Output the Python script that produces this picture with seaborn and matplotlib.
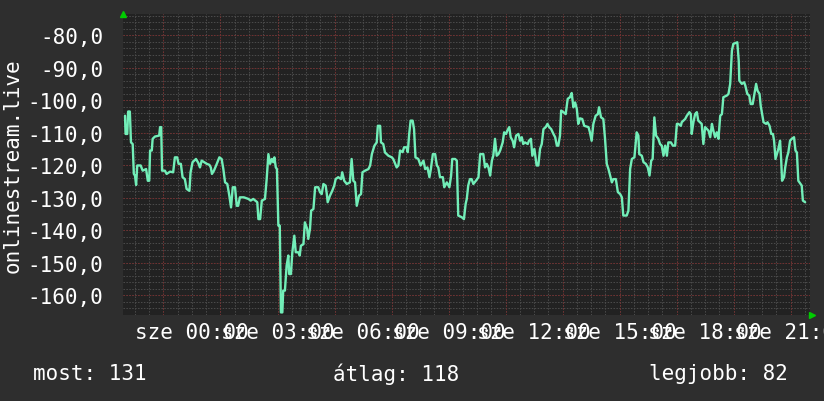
import numpy as np
import pandas as pd
import seaborn as sns
import matplotlib
matplotlib.use("Agg")
import matplotlib.pyplot as plt
from matplotlib.ticker import FuncFormatter

# adatok (órák 00:00-tól, jelszint)
hours = [
    -2.35, -2.33, -2.27, -2.24, -2.18, -2.14, -2.08, -2.04, -2.00, -1.96,
    -1.92, -1.80, -1.73, -1.61, -1.55, -1.50, -1.47, -1.41, -1.38, -1.30,
    -1.15, -1.12, -1.08, -1.05, -0.95, -0.89, -0.77, -0.66, -0.60, -0.52,
    -0.47, -0.39, -0.33, -0.25, -0.19, -0.09, -0.05, 0.02, 0.14, 0.22,
    0.28, 0.34, 0.52, 0.61, 0.66, 0.70, 0.77, 0.87, 0.96, 1.04,
    1.10, 1.16, 1.24, 1.31, 1.37, 1.43, 1.51, 1.57, 1.62, 1.68,
    1.82, 1.98, 2.06, 2.15, 2.29, 2.33, 2.39, 2.45, 2.56, 2.62,
    2.68, 2.74, 2.80, 2.85, 2.89, 2.94, 2.98, 3.03, 3.08, 3.12,
    3.17, 3.20, 3.26, 3.32, 3.38, 3.41, 3.47, 3.52, 3.59, 3.64,
    3.73, 3.78, 3.82, 3.91, 3.96, 4.04, 4.08, 4.14, 4.18, 4.26,
    4.32, 4.43, 4.49, 4.55, 4.61, 4.69, 4.73, 4.76, 4.84, 4.92,
    4.99, 5.04, 5.13, 5.23, 5.27, 5.34, 5.43, 5.54, 5.60, 5.66,
    5.72, 5.78, 5.86, 5.93, 5.98, 6.07, 6.19, 6.25, 6.31, 6.40,
    6.48, 6.52, 6.60, 6.63, 6.71, 6.77, 6.89, 7.01, 7.06, 7.18,
    7.24, 7.30, 7.39, 7.44, 7.53, 7.57, 7.62, 7.67, 7.74, 7.79,
    7.84, 7.94, 8.02, 8.12, 8.18, 8.26, 8.33, 8.38, 8.45, 8.53,
    8.59, 8.64, 8.70, 8.80, 8.85, 8.94, 9.03, 9.09, 9.13, 9.23,
    9.29, 9.34, 9.46, 9.54, 9.60, 9.64, 9.69, 9.75, 9.81, 9.87,
    9.96, 10.05, 10.11, 10.22, 10.28, 10.34, 10.40, 10.46, 10.52, 10.57,
    10.63, 10.69, 10.75, 10.81, 10.90, 10.95, 11.02, 11.06, 11.13, 11.18,
    11.25, 11.30, 11.37, 11.45, 11.51, 11.57, 11.62, 11.68, 11.78, 11.82,
    11.89, 11.94, 12.01, 12.09, 12.15, 12.21, 12.27, 12.33, 12.41, 12.47,
    12.53, 12.60, 12.68, 12.74, 12.80, 12.85, 12.91, 12.95, 13.03, 13.11,
    13.18, 13.26, 13.32, 13.38, 13.44, 13.50, 13.55, 13.61, 13.69, 13.76,
    13.91, 13.96, 14.02, 14.08, 14.16, 14.24, 14.28, 14.35, 14.43, 14.49,
    14.55, 14.61, 14.67, 14.73, 14.78, 14.87, 14.94, 15.02, 15.08, 15.13,
    15.25, 15.31, 15.37, 15.43, 15.52, 15.60, 15.66, 15.69, 15.78, 15.84,
    15.92, 15.99, 16.05, 16.11, 16.16, 16.22, 16.28, 16.36, 16.42, 16.48,
    16.54, 16.60, 16.66, 16.71, 16.80, 16.87, 16.95, 17.01, 17.06, 17.15,
    17.18, 17.30, 17.36, 17.45, 17.50, 17.53, 17.59, 17.65, 17.71, 17.76,
    17.88, 17.94, 18.00, 18.12, 18.18, 18.24, 18.29, 18.35, 18.41, 18.47,
    18.53, 18.59, 18.64, 18.76, 18.82, 18.88, 18.94, 18.99, 19.13, 19.18,
    19.20, 19.29, 19.37, 19.41, 19.48, 19.55, 19.60, 19.67, 19.72, 19.79,
    19.84, 19.91, 19.95, 20.00, 20.05, 20.14, 20.19, 20.26, 20.32, 20.38,
    20.42, 20.47, 20.52, 20.57, 20.63, 20.67, 20.70, 20.77, 20.81, 20.87,
    20.92, 20.98, 21.04, 21.12, 21.17, 21.22, 21.27, 21.39, 21.43, 21.51,
]
signal = [
    -104.7, -110.3, -110.3, -103.4, -103.4, -112.9, -113.4, -122.6, -123.1, -126.0,
    -120.0, -120.0, -121.6, -121.1, -124.7, -124.7, -115.4, -115.4, -111.8, -111.1,
    -110.8, -108.2, -108.2, -121.6, -121.6, -122.6, -121.9, -122.1, -117.5, -117.5,
    -119.5, -119.5, -123.6, -124.2, -127.2, -127.8, -122.1, -119.0, -118.0, -119.2,
    -120.6, -118.5, -119.5, -119.8, -120.6, -122.6, -121.6, -119.5, -117.5, -118.0,
    -121.1, -125.2, -125.7, -129.3, -132.9, -126.7, -126.7, -132.4, -132.4, -129.8,
    -129.8, -130.3, -130.8, -130.3, -131.3, -136.5, -136.5, -130.8, -130.3, -124.2,
    -116.5, -119.5, -118.0, -119.0, -117.5, -120.6, -121.1, -138.5, -138.5, -165.2,
    -165.2, -158.5, -158.5, -150.8, -147.7, -153.4, -153.4, -146.7, -141.6, -146.7,
    -146.7, -147.7, -144.7, -144.2, -137.5, -139.5, -142.6, -139.5, -133.9, -133.4,
    -126.7, -126.7, -128.2, -128.8, -125.7, -126.2, -128.8, -131.3, -129.3, -127.8,
    -126.2, -124.2, -123.6, -124.2, -122.1, -124.7, -125.7, -125.2, -118.0, -124.7,
    -125.2, -132.4, -129.3, -128.8, -122.1, -121.6, -121.1, -120.0, -116.5, -113.9,
    -112.9, -107.8, -107.8, -112.9, -113.4, -116.0, -117.0, -117.5, -118.0, -120.6,
    -120.0, -115.4, -115.9, -114.4, -114.4, -115.9, -110.3, -106.2, -106.2, -108.8,
    -117.5, -118.0, -120.0, -118.5, -121.1, -120.6, -123.6, -121.1, -116.5, -116.5,
    -120.0, -120.6, -123.6, -123.6, -126.7, -125.2, -126.7, -123.1, -118.0, -118.0,
    -118.5, -135.4, -135.9, -136.5, -131.8, -130.3, -126.2, -124.2, -124.2, -125.7,
    -124.7, -123.6, -116.5, -116.5, -120.6, -119.5, -120.6, -123.1, -118.5, -117.0,
    -111.8, -117.0, -116.5, -115.4, -112.9, -109.8, -110.3, -109.3, -108.2, -111.3,
    -112.4, -114.4, -110.8, -110.3, -112.4, -111.3, -113.4, -112.9, -113.4, -112.4,
    -111.8, -117.0, -114.9, -120.0, -120.0, -114.9, -113.4, -108.8, -108.2, -107.2,
    -108.2, -108.8, -110.3, -111.3, -113.9, -113.9, -110.8, -103.1, -103.6, -104.2,
    -99.5, -99.0, -97.7, -102.1, -100.6, -102.6, -107.2, -105.5, -105.7, -107.8,
    -108.2, -109.8, -112.4, -107.2, -104.7, -104.2, -102.1, -105.2, -105.7, -111.8,
    -119.5, -121.1, -123.1, -125.2, -124.2, -124.2, -128.2, -128.8, -129.8, -135.4,
    -135.4, -133.9, -121.1, -118.0, -117.5, -109.8, -110.8, -116.5, -117.0, -119.0,
    -119.5, -120.6, -123.1, -118.5, -118.0, -105.2, -110.8, -111.8, -113.4, -113.9,
    -117.0, -113.9, -117.0, -112.9, -112.9, -113.9, -113.9, -107.2, -107.2, -107.8,
    -106.7, -105.7, -104.7, -103.6, -104.2, -110.3, -106.7, -104.2, -103.6, -106.2,
    -107.2, -113.4, -108.2, -109.3, -111.3, -107.2, -109.3, -111.3, -109.8, -111.8,
    -104.7, -104.2, -99.0, -98.5, -98.0, -94.9, -84.7, -82.6, -82.1, -87.8,
    -93.9, -94.9, -94.4, -95.4, -98.0, -98.5, -101.1, -101.1, -98.5, -94.9,
    -97.0, -98.0, -101.6, -104.2, -106.7, -107.2, -106.7, -107.8, -110.3, -110.3,
    -112.4, -118.0, -116.5, -114.9, -112.4, -118.5, -124.7, -123.6, -120.6, -117.5,
    -116.0, -112.4, -111.8, -111.3, -115.4, -116.0, -124.7, -126.2, -130.8, -131.3,
]

tick_hours = [0, 3, 6, 9, 12, 15, 18, 21]
tick_labels = ["sze 00:00", "sze 03:00", "sze 06:00", "sze 09:00",
               "sze 12:00", "sze 15:00", "sze 18:00", "sze 21:00"]
y_ticks = [-80, -90, -100, -110, -120, -130, -140, -150, -160]
summary = ["most: 131", "átlag: 118", "legjobb: 82"]

outer_bg = "#2e2e2e"
plot_bg = "#222222"
line_col = "#72eeb8"

sns.set_style("dark", {"axes.facecolor": plot_bg, "figure.facecolor": outer_bg})
plt.rcParams["font.family"] = ["DejaVu Sans Mono", "DejaVu Sans"]

df = pd.DataFrame({"ora": hours, "jel": signal})

fig = plt.figure(figsize=(8.24, 4.02), dpi=100)
ax = fig.add_axes([123 / 824, 86 / 402, 687 / 824, 301 / 402])

# rács: szürke apró, piros fő vonalak
for v in np.arange(-166, -72, 2):
    ax.axhline(v, color="#4c4c4c", lw=0.7, ls=(0, (1.5, 1.5)), zorder=1)
for v in y_ticks:
    ax.axhline(v, color="#742e2e", lw=0.7, ls=(0, (1.5, 1.5)), zorder=2)
for v in np.arange(-2.5, 22, 0.5):
    ax.axvline(v, color="#4c4c4c", lw=0.7, ls=(0, (1.5, 1.5)), zorder=1)
for v in np.arange(-1, 22, 2):
    ax.axvline(v, color="#742e2e", lw=0.7, ls=(0, (1.5, 1.5)), zorder=2)

sns.lineplot(data=df, x="ora", y="jel", ax=ax, estimator=None, sort=False,
             color=line_col, lw=1.7, zorder=5)

ax.set_xlim(-2.42, 21.68)
ax.set_ylim(-166.0, -73.4)
ax.set_xticks(tick_hours)
ax.set_xticklabels(tick_labels)
ax.set_yticks(y_ticks)
ax.yaxis.set_major_formatter(FuncFormatter(lambda v, p: f"{v:.1f}".replace(".", ",")))
ax.tick_params(colors="white", labelsize=15, length=0)
ax.tick_params(axis="y", pad=14)
ax.tick_params(axis="x", pad=5)
ax.set_xlabel("")
ax.set_ylabel("onlinestream.live", color="white", fontsize=15, labelpad=4)
for s in ax.spines.values():
    s.set_visible(False)

# zöld nyilak
ax.plot([0], [1.0], marker="^", color="#00cc00", ms=5, transform=ax.transAxes,
        clip_on=False)
ax.plot([1.003], [0], marker=">", color="#00cc00", ms=5, transform=ax.transAxes,
        clip_on=False)

fig.text(33 / 824, 28 / 402, summary[0], color="white", fontsize=15, ha="left", va="center")
fig.text(333 / 824, 28 / 402, summary[1], color="white", fontsize=15, ha="left", va="center")
fig.text(649 / 824, 28 / 402, summary[2], color="white", fontsize=15, ha="left", va="center")

fig.savefig("out.png", dpi=100, facecolor=outer_bg)
